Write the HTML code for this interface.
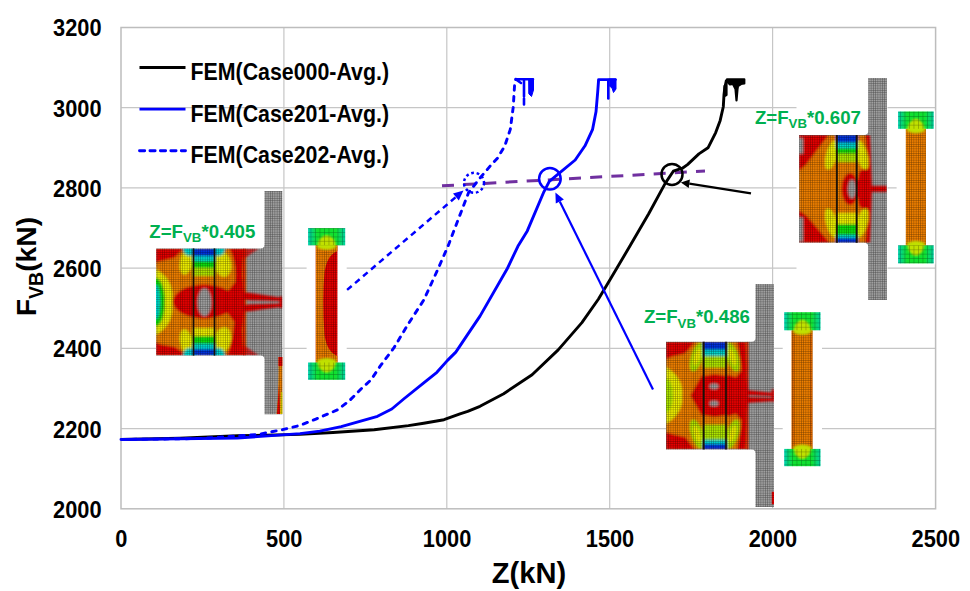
<!DOCTYPE html>
<html><head><meta charset="utf-8"><style>
html,body{margin:0;padding:0;background:#fff;width:970px;height:591px;overflow:hidden}
svg{display:block}
</style></head><body>
<svg width="970" height="591" viewBox="0 0 970 591">
<defs>
<pattern id="mesh" width="2.25" height="2.25" patternUnits="userSpaceOnUse">
<path d="M0 0H2.25M0 0V2.25" stroke="#000" stroke-opacity="0.55" stroke-width="0.8" fill="none"/>
</pattern>
<linearGradient id="redfade" x1="0" x2="1" y1="0" y2="0"><stop offset="0" stop-color="#e80000" stop-opacity="0.8"/><stop offset="1" stop-color="#e80000" stop-opacity="0"/></linearGradient>
<pattern id="meshc" width="4.5" height="4.3" patternUnits="userSpaceOnUse">
<path d="M0 0H4.5M0 0V4.3" stroke="#000" stroke-opacity="0.45" stroke-width="0.9" fill="none"/>
</pattern>
<linearGradient id="flg" x1="0" x2="1" y1="0" y2="0"><stop offset="0" stop-color="#00d0b0"/><stop offset="0.25" stop-color="#10e030"/><stop offset="0.75" stop-color="#10e030"/><stop offset="1" stop-color="#00d0a0"/></linearGradient>
<filter id="soft" x="-5%" y="-5%" width="110%" height="110%"><feGaussianBlur stdDeviation="0.8"/></filter>
</defs>
<rect width="970" height="591" fill="#fff"/>
<g stroke="#c6c6c6" stroke-width="1.2"><line x1="121" y1="428.6" x2="935.6" y2="428.6"/><line x1="121" y1="348.4" x2="935.6" y2="348.4"/><line x1="121" y1="268.1" x2="935.6" y2="268.1"/><line x1="121" y1="187.9" x2="935.6" y2="187.9"/><line x1="121" y1="107.7" x2="935.6" y2="107.7"/><line x1="283.9" y1="27.5" x2="283.9" y2="508.8"/><line x1="446.8" y1="27.5" x2="446.8" y2="508.8"/><line x1="609.7" y1="27.5" x2="609.7" y2="508.8"/><line x1="772.6" y1="27.5" x2="772.6" y2="508.8"/></g>
<rect x="121" y="27.5" width="814.6" height="481.3" fill="none" stroke="#bdbdbd" stroke-width="1.5"/>
<g font-family="Liberation Sans, sans-serif" font-weight="bold" font-size="23.2" fill="#000">
<text transform="translate(101.6,517.7) scale(0.94,1)" text-anchor="end">2000</text>
<text transform="translate(101.6,437.5) scale(0.94,1)" text-anchor="end">2200</text>
<text transform="translate(101.6,357.3) scale(0.94,1)" text-anchor="end">2400</text>
<text transform="translate(101.6,277.0) scale(0.94,1)" text-anchor="end">2600</text>
<text transform="translate(101.6,196.8) scale(0.94,1)" text-anchor="end">2800</text>
<text transform="translate(101.6,116.6) scale(0.94,1)" text-anchor="end">3000</text>
<text transform="translate(101.6,36.4) scale(0.94,1)" text-anchor="end">3200</text>
<text transform="translate(121.3,547.0) scale(0.94,1)" text-anchor="middle">0</text>
<text transform="translate(284.2,547.0) scale(0.94,1)" text-anchor="middle">500</text>
<text transform="translate(447.1,547.0) scale(0.94,1)" text-anchor="middle">1000</text>
<text transform="translate(610.0,547.0) scale(0.94,1)" text-anchor="middle">1500</text>
<text transform="translate(772.9,547.0) scale(0.94,1)" text-anchor="middle">2000</text>
<text transform="translate(935.8,547.0) scale(0.94,1)" text-anchor="middle">2500</text>
</g>
<text transform="translate(529,582.8) scale(0.97,1)" text-anchor="middle" font-family="Liberation Sans, sans-serif" font-weight="bold" font-size="30">Z(kN)</text>
<text transform="translate(36.3,266.5) rotate(-90)" text-anchor="middle" font-family="Liberation Sans, sans-serif" font-weight="bold" font-size="28.3">F<tspan font-size="19.5" dy="6.2">VB</tspan><tspan dy="-6.2">(kN)</tspan></text>
<g font-family="Liberation Sans, sans-serif" font-weight="bold" font-size="23.6" fill="#000">
<line x1="139.5" y1="67.5" x2="185.5" y2="67.5" stroke="#000" stroke-width="2.9"/>
<text transform="translate(190.5,79.9) scale(0.905,1)">FEM(Case000-Avg.)</text>
<line x1="139.5" y1="109.1" x2="185.5" y2="109.1" stroke="#0000ff" stroke-width="2.9"/>
<text transform="translate(190.5,121.5) scale(0.905,1)">FEM(Case201-Avg.)</text>
<line x1="139.5" y1="150.7" x2="185.5" y2="150.7" stroke="#0000ff" stroke-width="2.9" stroke-dasharray="5.2 5.25" stroke-linecap="round"/>
<text transform="translate(190.5,163.1) scale(0.905,1)">FEM(Case202-Avg.)</text>
</g>
<clipPath id="cpL"><rect x="156" y="248.4" width="127" height="107.2"/></clipPath><clipPath id="cpLs"><path d="M264.5 190.9H282.3V414.2H264.5V359.6Q264.5 355.6 260.5 355.6H156V248.4H260.5Q264.5 248.4 264.5 244.4Z"/></clipPath><g clip-path="url(#cpLs)"><rect x="150" y="185" width="140" height="235" fill="#a0a0a0"/><g clip-path="url(#cpL)" filter="url(#soft)"><rect x="156" y="248.4" width="90" height="107.2" fill="#f08000"/><path d="M229 248.4 H244 L243 275 L245 296 L245 308 L243 330 L244 355.6 H227 Q233 340 234 322 Q228 312 215 302 Q228 292 235 282 Q237 262 229 248.4Z" fill="#e80000"/><path d="M244 248.4 H259 L252 253 L244 259Z" fill="#e80000" fill-opacity="0.75"/><path d="M244 355.6 H259 L252 351 L244 345Z" fill="#e80000" fill-opacity="0.75"/><path d="M244 292 L283 298 V301 L244 300Z M244 304.5 L283 303.5 V306.5 L244 312Z" fill="#e80000"/><rect x="279.5" y="296.5" width="3.5" height="11.5" fill="#e80000"/><path d="M156 248.4 H183 L182.5 250.2 L174.9 257.8 L160.7 261.3 L156 262.8Z" fill="#e80000"/><path d="M156 355.6 H183 L182.5 351.8 L174.9 346.7 L161.2 344.6 L156 342.1Z" fill="#e80000"/><path d="M156 269 Q175 280 172 302 Q175 324 156 335Z" fill="#f0f000"/><ellipse cx="156.0" cy="302.0" rx="9.0" ry="24.0" fill="#10e010"/><ellipse cx="156.0" cy="302.0" rx="4.0" ry="17.0" fill="#00d8d0"/><ellipse cx="186.5" cy="262.0" rx="6.5" ry="13.0" fill="#f0f000" transform="rotate(12 186.5 262.0)"/><ellipse cx="222.5" cy="264.0" rx="8.5" ry="13.0" fill="#f0f000" transform="rotate(-12 222.5 264.0)"/><ellipse cx="186.5" cy="342.0" rx="6.5" ry="13.0" fill="#f0f000" transform="rotate(-12 186.5 342.0)"/><ellipse cx="222.5" cy="340.0" rx="8.5" ry="13.0" fill="#f0f000" transform="rotate(12 222.5 340.0)"/><ellipse cx="190.0" cy="249.0" rx="7.0" ry="7.0" fill="#00d8d0"/><ellipse cx="218.0" cy="249.0" rx="7.0" ry="7.0" fill="#00d8d0"/><ellipse cx="190.0" cy="355.0" rx="7.0" ry="7.0" fill="#00d8d0"/><ellipse cx="218.0" cy="355.0" rx="7.0" ry="7.0" fill="#00d8d0"/><rect x="192.5" y="248.4" width="23.0" height="7.9" fill="#0030e0"/><rect x="192.5" y="256.0" width="23.0" height="5.3" fill="#00d8d0"/><rect x="192.5" y="261.0" width="23.0" height="7.3" fill="#10e010"/><rect x="192.5" y="268.0" width="23.0" height="8.3" fill="#b0e800"/><rect x="192.5" y="276.0" width="23.0" height="8.3" fill="#f08000"/><rect x="192.5" y="348.7" width="23.0" height="6.9" fill="#0030e0"/><rect x="192.5" y="343.7" width="23.0" height="5.3" fill="#00d8d0"/><rect x="192.5" y="335.7" width="23.0" height="8.3" fill="#10e010"/><rect x="192.5" y="327.7" width="23.0" height="8.3" fill="#f0f000"/><rect x="192.5" y="319.7" width="23.0" height="8.3" fill="#f08000"/><ellipse cx="204.0" cy="301.5" rx="31.0" ry="17.0" fill="#e80000"/><ellipse cx="204.5" cy="302.3" rx="7.0" ry="14.0" fill="#a0a0a0"/></g><rect x="243" y="248.4" width="4" height="107.2" fill="url(#redfade)"/><path d="M278.5 357 H283 V414 H276.5 Q279 390 278.5 357Z" fill="#f08000"/><path d="M278.5 357 H283 V366 H278.5Z" fill="#e80000"/><path d="M279 385 L277 414 H280Z" fill="#e80000"/><path d="M281 392 H283 V414 H280.5Z" fill="#f0f000"/><rect x="150" y="185" width="140" height="235" fill="url(#mesh)"/></g><line x1="193.5" y1="248.4" x2="193.5" y2="355.6" stroke="#181008" stroke-width="1.7"/><line x1="214.5" y1="248.4" x2="214.5" y2="355.6" stroke="#181008" stroke-width="1.7"/><rect x="306.6" y="227.1" width="40.099999999999966" height="153.70000000000002" fill="#fff"/><rect x="315.8" y="245.3" width="21.6" height="117.2" fill="#e80000"/><path d="M315.8 245.3 H337.4 V251 Q327 255 324.5 272 Q322 300 324.5 335 Q327 352 337.4 356 V362.5 H315.8Z" fill="#f08000"/><rect x="315.8" y="245.3" width="21.6" height="117.2" fill="url(#mesh)"/><rect x="308.1" y="228.1" width="37.1" height="17.2" fill="url(#flg)"/><path d="M316.9 247.3 L318.9 240.3 Q326.6 230.1 334.4 240.3 L336.4 247.3 Q326.6 252.3 316.9 247.3Z" fill="#c0e000" filter="url(#soft)"/><rect x="308.1" y="228.1" width="37.1" height="17.2" fill="url(#meshc)"/><rect x="308.1" y="362.5" width="37.1" height="17.3" fill="url(#flg)"/><path d="M316.9 360.5 L318.9 367.5 Q326.6 377.8 334.4 367.5 L336.4 360.5 Q326.6 355.5 316.9 360.5Z" fill="#c0e000" filter="url(#soft)"/><rect x="308.1" y="362.5" width="37.1" height="17.3" fill="url(#meshc)"/><clipPath id="cpM"><rect x="666" y="341.7" width="108" height="107.8"/></clipPath><clipPath id="cpMs"><path d="M755.5 284H774V507H755.5V453.5Q755.5 449.5 751.5 449.5H666V341.7H751.5Q755.5 341.7 755.5 337.7Z"/></clipPath><g clip-path="url(#cpMs)"><rect x="660" y="280" width="120" height="230" fill="#a0a0a0"/><g clip-path="url(#cpM)" filter="url(#soft)"><rect x="666" y="341.7" width="82" height="107.8" fill="#f08000"/><path d="M737 341.7 H746.5 L748 395.6 L746.5 449.5 H737 Q741 432 741 420 L736 414 L728 416.5 L715 418 L702 416.5 L690.5 395.6 L702 374.5 L715 373 L728 374.5 L736 377 L741 371 Q741 359 737 341.7Z" fill="#e80000"/><path d="M666 341.7 H695 L688.4 350.3 L684.4 353.9 L672.7 356.4 L666 359.4Z" fill="#e80000"/><path d="M666 449.5 H695 L685.4 437 L674.2 434.6 L666 432Z" fill="#e80000"/><path d="M666 367 Q684 378 682 395.6 Q684 413 666 424Z" fill="#f0f000"/><ellipse cx="666.0" cy="395.6" rx="7.0" ry="17.0" fill="#b0e800"/><ellipse cx="697.0" cy="357.0" rx="6.0" ry="15.0" fill="#b0e800" transform="rotate(18 697.0 357.0)"/><ellipse cx="697.0" cy="357.0" rx="3.3" ry="9.0" fill="#f0f000" transform="rotate(18 697.0 357.0)"/><ellipse cx="732.5" cy="357.0" rx="6.0" ry="15.0" fill="#b0e800" transform="rotate(-18 732.5 357.0)"/><ellipse cx="732.5" cy="357.0" rx="3.3" ry="9.0" fill="#f0f000" transform="rotate(-18 732.5 357.0)"/><ellipse cx="697.0" cy="434.0" rx="6.0" ry="15.0" fill="#b0e800" transform="rotate(-18 697.0 434.0)"/><ellipse cx="697.0" cy="434.0" rx="3.3" ry="9.0" fill="#f0f000" transform="rotate(-18 697.0 434.0)"/><ellipse cx="732.5" cy="434.0" rx="6.0" ry="15.0" fill="#b0e800" transform="rotate(18 732.5 434.0)"/><ellipse cx="732.5" cy="434.0" rx="3.3" ry="9.0" fill="#f0f000" transform="rotate(18 732.5 434.0)"/><rect x="702.7" y="341.7" width="24.3" height="8.3" fill="#0030e0"/><rect x="702.7" y="349.7" width="24.3" height="6.8" fill="#00d8d0"/><rect x="702.7" y="356.2" width="24.3" height="11.8" fill="#b0e800"/><rect x="702.7" y="367.7" width="24.3" height="8.3" fill="#f08000"/><rect x="702.7" y="443.7" width="24.3" height="5.8" fill="#0030e0"/><rect x="702.7" y="439.2" width="24.3" height="4.8" fill="#00d8d0"/><rect x="702.7" y="424.2" width="24.3" height="15.3" fill="#b0e800"/><rect x="702.7" y="415.2" width="24.3" height="9.3" fill="#f08000"/><path d="M690.5 395.6 L702 376 L715 374 L728 376 L740 395.6 L728 415 L715 417 L702 415Z" fill="#e80000"/><ellipse cx="714.0" cy="386.3" rx="4.5" ry="2.8" fill="#a0a0a0"/><ellipse cx="714.0" cy="403.5" rx="4.5" ry="2.8" fill="#a0a0a0"/><path d="M745 390 L774 393 V396 L745 395Z M745 397 L774 398 V401 L745 403Z" fill="#e80000"/><rect x="771.5" y="389.5" width="3" height="12" fill="#e80000"/></g><rect x="746.5" y="341.7" width="3" height="107.8" fill="url(#redfade)"/><rect x="771.8" y="491.8" width="2.2" height="12.5" fill="#e80000"/><rect x="660" y="280" width="120" height="230" fill="url(#mesh)"/></g><line x1="703.7" y1="341.7" x2="703.7" y2="449.5" stroke="#181008" stroke-width="1.7"/><line x1="726" y1="341.7" x2="726" y2="449.5" stroke="#181008" stroke-width="1.7"/><rect x="782.7" y="311.2" width="39.299999999999955" height="156.0" fill="#fff"/><rect x="791.7" y="330.3" width="20.7" height="118.6" fill="#f08000"/><rect x="791.7" y="330.3" width="2.5" height="118.6" fill="#e06800"/><rect x="809.9" y="330.3" width="2.5" height="118.6" fill="#e06800"/><rect x="791.7" y="330.3" width="20.7" height="118.6" fill="url(#mesh)"/><rect x="784.2" y="312.2" width="36.3" height="18.1" fill="url(#flg)"/><path d="M793.0 332.3 L795.0 325.3 Q802.4 314.2 809.7 325.3 L811.7 332.3 Q802.4 337.3 793.0 332.3Z" fill="#c0e000" filter="url(#soft)"/><rect x="784.2" y="312.2" width="36.3" height="18.1" fill="url(#meshc)"/><rect x="784.2" y="448.9" width="36.3" height="17.3" fill="url(#flg)"/><path d="M793.0 446.9 L795.0 453.9 Q802.4 464.2 809.7 453.9 L811.7 446.9 Q802.4 441.9 793.0 446.9Z" fill="#c0e000" filter="url(#soft)"/><rect x="784.2" y="448.9" width="36.3" height="17.3" fill="url(#meshc)"/><rect x="796.5" y="104.5" width="91" height="197" fill="#fff"/><clipPath id="cpR"><rect x="799" y="135" width="88" height="107.8"/></clipPath><clipPath id="cpRs"><path d="M868.2 78H886.9V300.1H868.2V246.8Q868.2 242.8 864.2 242.8H799V135H864.2Q868.2 135 868.2 131Z"/></clipPath><g clip-path="url(#cpRs)"><rect x="795" y="75" width="95" height="230" fill="#a0a0a0"/><g clip-path="url(#cpR)" filter="url(#soft)"><rect x="799" y="135" width="71" height="107.8" fill="#f08000"/><path d="M865 135 H870 L872 188.9 L870 242.8 H865 Q868 225 866 212 L859 206 L856 188.9 L859 172 L866 166 Q868 150 865 135Z" fill="#e80000"/><path d="M799 135 H829 L818 149 L806 165 L799 171Z" fill="#e80000"/><path d="M799 242.8 H830 L819 230 L807 216 L799 210Z" fill="#e80000"/><ellipse cx="831.5" cy="155.0" rx="5.5" ry="15.0" fill="#f0f000" transform="rotate(15 831.5 155.0)"/><ellipse cx="862.0" cy="155.0" rx="5.5" ry="15.0" fill="#f0f000" transform="rotate(-15 862.0 155.0)"/><ellipse cx="831.5" cy="223.0" rx="5.5" ry="15.0" fill="#f0f000" transform="rotate(-15 831.5 223.0)"/><ellipse cx="862.0" cy="223.0" rx="5.5" ry="15.0" fill="#f0f000" transform="rotate(15 862.0 223.0)"/><rect x="835.9" y="135.0" width="21.8" height="7.9" fill="#0030e0"/><rect x="835.9" y="142.6" width="21.8" height="5.7" fill="#00d8d0"/><rect x="835.9" y="148.0" width="21.8" height="5.9" fill="#10e010"/><rect x="835.9" y="153.6" width="21.8" height="9.1" fill="#b0e800"/><rect x="835.9" y="162.4" width="21.8" height="10.2" fill="#f08000"/><rect x="835.9" y="237.7" width="21.8" height="5.1" fill="#0030e0"/><rect x="835.9" y="234.7" width="21.8" height="3.3" fill="#00d8d0"/><rect x="835.9" y="223.7" width="21.8" height="11.3" fill="#10e010"/><rect x="835.9" y="212.7" width="21.8" height="11.3" fill="#f0f000"/><rect x="835.9" y="204.7" width="21.8" height="8.3" fill="#f08000"/><ellipse cx="850.0" cy="188.9" rx="8.5" ry="16.0" fill="#e80000"/><ellipse cx="852.0" cy="188.9" rx="4.0" ry="9.5" fill="#a0a0a0"/><rect x="866" y="185.9" width="21" height="6" fill="#e80000"/><rect x="799" y="138.2" width="4.2" height="15.4" fill="#a0a0a0"/><rect x="799" y="217.4" width="4.2" height="24" fill="#a0a0a0"/></g><rect x="795" y="75" width="95" height="230" fill="url(#mesh)"/></g><line x1="836.9" y1="135" x2="836.9" y2="242.8" stroke="#181008" stroke-width="1.7"/><line x1="856.7" y1="135" x2="856.7" y2="242.8" stroke="#181008" stroke-width="1.7"/><rect x="896.6" y="110.5" width="38.60000000000002" height="153.89999999999998" fill="#fff"/><rect x="905.8" y="128.8" width="20.2" height="116.5" fill="#f08000"/><rect x="905.8" y="128.8" width="20.2" height="116.5" fill="url(#mesh)"/><rect x="898.1" y="111.5" width="35.6" height="17.3" fill="url(#flg)"/><path d="M906.8 130.8 L908.8 123.8 Q915.9 113.5 923.0 123.8 L925.0 130.8 Q915.9 135.8 906.8 130.8Z" fill="#c0e000" filter="url(#soft)"/><rect x="898.1" y="111.5" width="35.6" height="17.3" fill="url(#meshc)"/><rect x="898.1" y="245.3" width="35.6" height="18.1" fill="url(#flg)"/><path d="M906.8 243.3 L908.8 250.3 Q915.9 261.4 923.0 250.3 L925.0 243.3 Q915.9 238.3 906.8 243.3Z" fill="#c0e000" filter="url(#soft)"/><rect x="898.1" y="245.3" width="35.6" height="18.1" fill="url(#meshc)"/>
<text transform="translate(149.3,237.6) scale(1.06,1)" font-family="Liberation Sans, sans-serif" font-weight="bold" font-size="17.6" fill="#00b050">Z=F<tspan font-size="12.5" dy="4.3">VB</tspan><tspan dy="-4.3">*0.405</tspan></text>
<text transform="translate(643.9,323.2) scale(1.06,1)" font-family="Liberation Sans, sans-serif" font-weight="bold" font-size="17.6" fill="#00b050">Z=F<tspan font-size="12.5" dy="4.3">VB</tspan><tspan dy="-4.3">*0.486</tspan></text>
<text transform="translate(754.9,124.1) scale(1.06,1)" font-family="Liberation Sans, sans-serif" font-weight="bold" font-size="17.6" fill="#00b050">Z=F<tspan font-size="12.5" dy="4.3">VB</tspan><tspan dy="-4.3">*0.607</tspan></text>
<line x1="442" y1="185.8" x2="705" y2="171.1" stroke="#7030a0" stroke-width="3.0" stroke-dasharray="12 9.2"/>
<polyline points="121.0,439.5 180.0,438.2 237.5,435.8 300.0,434.4 333.0,432.5 374.2,429.8 408.4,425.6 423.7,423.2 444.0,419.7 460.0,413.8 467.7,411.4 480.0,406.3 503.7,393.7 532.1,374.8 558.2,349.9 581.9,322.6 598.5,299.0 609.1,281.2 630.5,245.1 648.7,213.7 665.2,183.4 673.3,171.2 682.4,168.2 687.5,164.6 698.9,153.9 708.0,147.8 715.7,132.6 720.2,120.4 723.3,106.7 724.0,94.6 724.8,88.0 726.5,79.9" fill="none" stroke="#000" stroke-width="2.9" stroke-linejoin="round"/>
<polyline points="121.0,439.5 237.5,438.1 300.0,433.6 319.8,431.1 341.2,426.7 377.5,416.3 391.8,409.0 403.7,399.0 425.0,381.8 436.9,372.3 447.5,360.4 455.8,352.1 467.7,334.4 480.0,316.1 507.2,268.8 517.9,246.3 527.3,230.9 543.9,191.8 549.3,181.3 560.5,172.2 575.2,160.0 585.0,145.8 592.6,129.3 596.0,111.8 597.7,92.0 598.6,79.9" fill="none" stroke="#0000ff" stroke-width="2.9" stroke-linejoin="round"/>
<polyline points="121.0,439.5 200.0,438.5 257.1,434.6 282.6,429.7 300.0,425.4 316.5,418.8 337.9,409.7 349.5,400.6 361.0,389.0 370.9,380.0 380.0,366.4 394.2,347.4 408.4,323.7 423.8,300.0 438.1,268.8 448.3,245.4 458.4,219.0 468.6,192.6 479.7,178.4 490.9,165.2 497.6,158.0 504.8,145.9 510.3,129.4 513.2,107.4 514.7,83.2 515.8,79.2" fill="none" stroke="#0000ff" stroke-width="2.9" stroke-dasharray="4.5 6.3" stroke-linecap="round" stroke-linejoin="round"/>
<g fill="#000" stroke="#000" stroke-width="2.2" stroke-linejoin="round" stroke-linecap="round"><path d="M727 79.3 H744.3 V83.5 L741 84 L738 86 L737.5 89 L736.5 100.5 L735.5 89 L733 84 L730 84.5 L727.5 82Z"/><path d="M724.5 86 L726.5 84 L726.5 95 L724.5 96Z"/></g>
<g fill="#0000ff" stroke="#0000ff" stroke-linejoin="round" stroke-linecap="round"><path d="M598.5 79.6 H615.5" stroke-width="2.6" fill="none"/><path d="M608.3 80 V98.5" stroke-width="2.6" fill="none"/><path d="M609.5 79 H616 V89 L613.5 92.5 L612 88 L609.5 86Z" stroke-width="1"/></g>
<g fill="#0000ff" stroke="#0000ff" stroke-linejoin="round" stroke-linecap="round"><path d="M515.8 79.3 H533 M516 79.5 L521 83" stroke-width="2.6" fill="none"/><path d="M524 80.5 V96.5 M524 98.5 V104.5" stroke-width="2.6" fill="none"/><path d="M529 79 H533.5 V90 L531.5 96.5 L529 94Z" stroke-width="1"/></g>
<circle cx="549.9" cy="178.7" r="10.8" fill="none" stroke="#0000ff" stroke-width="2.5"/>
<circle cx="672" cy="174.4" r="10.5" fill="none" stroke="#000" stroke-width="2.5"/>
<circle cx="474" cy="182.8" r="10" fill="none" stroke="#0000ff" stroke-width="2.5" stroke-dasharray="2.7 2.8"/>
<line x1="653" y1="389.5" x2="559.8" y2="201.5" stroke="#0000ff" stroke-width="2.2"/><polygon points="555.4,192.5 563.9,199.5 555.8,203.5" fill="#0000ff"/>
<line x1="751" y1="193.3" x2="689.3" y2="183.7" stroke="#000" stroke-width="2.2"/><polygon points="680.9,182.4 689.9,179.6 688.7,187.9" fill="#000"/>
<line x1="347.1" y1="289.9" x2="455.9" y2="197.0" stroke="#0000ff" stroke-width="2.5" stroke-dasharray="6 4.5"/><polygon points="463.5,190.5 458.8,200.4 453.0,193.6" fill="#0000ff"/>
</svg>
</body></html>
